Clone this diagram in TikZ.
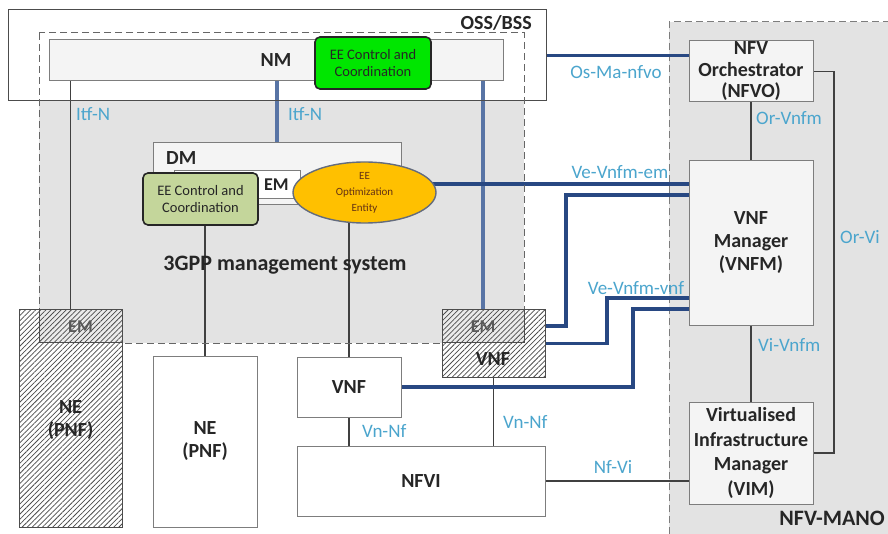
\documentclass[tikz,border=0pt]{standalone}
\usepackage{fontspec}
\setmainfont{Carlito}
\usetikzlibrary{shapes.geometric,patterns.meta}
\definecolor{lbl}{RGB}{75,165,205}
\definecolor{navy}{RGB}{40,72,130}
\definecolor{steel}{RGB}{88,116,165}
\definecolor{bggray}{RGB}{227,227,227}
\definecolor{boxfill}{RGB}{244,244,244}
\definecolor{brightgreen}{RGB}{0,230,0}
\definecolor{olivegreen}{RGB}{196,214,155}
\definecolor{amber}{RGB}{255,192,0}
\definecolor{txt}{RGB}{38,38,38}
\definecolor{edge}{RGB}{125,125,125}
\definecolor{ellipseedge}{RGB}{100,108,125}
\definecolor{brownish}{RGB}{100,50,20}
\pgfdeclarelayer{bg}\pgfdeclarelayer{conn}\pgfsetlayers{bg,conn,main}
\begin{document}
\begin{tikzpicture}[x=1pt,y=-1pt,
  box/.style={draw=edge, line width=1pt, inner sep=0pt, outer sep=0pt, align=center, text=txt,
    font=\fontsize{20}{23}\selectfont\bfseries},
  hatch/.style={preaction={fill=#1}, pattern={Lines[angle=45,distance=3.6pt,line width=0.75pt]}, pattern color=black!70},
  eebox/.style={draw=black!85, line width=1.6pt, rounded corners=5pt, inner sep=0pt, align=center,
    font=\fontsize{14.5}{17}\selectfont, text=black!85},
  lab/.style={text=lbl, font=\fontsize{19}{22}\selectfont, inner sep=0pt},
  plain/.style={text=txt, font=\fontsize{20}{23}\selectfont\bfseries, inner sep=0pt, align=center},
  thin/.style={draw=black!75, line width=1.1pt},
  thickline/.style={draw=navy, line width=3.6pt},
  nmline/.style={draw=steel, line width=3.6pt},
  dashy/.style={line width=1pt, dash pattern=on 7pt off 4pt}]
\useasboundingbox (0,0) rectangle (888,534);

% ---- background areas
\begin{pgfonlayer}{bg}
  \fill[white] (0,0) rectangle (888,534);
  \fill[bggray] (39,101) rectangle (524,343);
  \fill[bggray] (669,22) rectangle (888,534);
  \draw[edge, dashy] (669,534) -- (669,22) -- (888,22);
\end{pgfonlayer}

\node[box, draw=black!70, minimum width=538, minimum height=91] (oss) at (277,55.5) {};
\node[plain, anchor=east] (osslabel) at (532,23) {OSS/BSS};
\draw[black!60, dashy] (39,33) rectangle (524,343);

% ---- 3GPP side
\node[box, fill=boxfill, minimum width=454, minimum height=41] (nm) at (276,60.5) {NM};
\node[eebox, fill=brightgreen, minimum width=116, minimum height=52] (eec1) at (373,63) {EE Control and\\Coordination};

\node[box, fill=boxfill, minimum width=248, minimum height=62] (dm) at (277,174) {};
\node[plain, anchor=west] (dmlabel) at (166,158) {DM};
\node[box, fill=white, minimum width=126, minimum height=28] (em1) at (237,185) {};
\node[plain, anchor=west, font=\fontsize{18}{20}\selectfont\bfseries] (em1label) at (264,185) {EM};
\node[eebox, fill=olivegreen, minimum width=115, minimum height=52] (eec2) at (200.5,199) {EE Control and\\Coordination};
\node[ellipse, draw=ellipseedge, line width=1.4pt, fill=amber, minimum width=143, minimum height=61,
      inner sep=0pt, align=center, text=brownish,
      font=\fontsize{11}{16}\selectfont] (eoe) at (364.5,192.5) {EE\\Optimization\\Entity};

\node[plain, font=\fontsize{22}{24}\selectfont\bfseries] (gpp) at (285,265) {3GPP management system};

% NE hatched (left)
\node[box, draw=black!70, hatch=white, minimum width=103, minimum height=217] (ne1) at (70.5,418.5) {};
\node[box, draw=black!70, hatch=black!8, minimum width=83, minimum height=32] (em2) at (80.5,326) {};
\node[plain, text=black!65, font=\fontsize{18}{20}\selectfont\bfseries] (em2label) at (80.5,327) {EM};
\node[plain] (ne1label) at (70.5,420) {NE\\(PNF)};

% NE plain
\node[box, fill=white, minimum width=104, minimum height=171] (ne2) at (205,441.5) {NE\\(PNF)};

% VNF plain
\node[box, fill=white, minimum width=104, minimum height=60] (vnf1) at (349,387) {VNF};
% NFVI
\node[box, fill=white, minimum width=248, minimum height=70] (nfvi) at (421,481) {NFVI};

% VNF hatched with EM
\node[box, draw=black!70, hatch=white, minimum width=103, minimum height=67] (vnf2) at (493.5,343.5) {};
\node[box, draw=black!70, hatch=black!8, minimum width=82, minimum height=32] (em3) at (483,326) {};
\node[plain, text=black!65, font=\fontsize{18}{20}\selectfont\bfseries] (em3label) at (483,327) {EM};
\node[plain] (vnf2label) at (493,359) {VNF};

% ---- NFV-MANO side
\node[box, fill=boxfill, minimum width=124, minimum height=61, font=\fontsize{20}{21.5}\selectfont\bfseries] (nfvo) at (751,71.5) {NFV\\Orchestrator\\(NFVO)};
\node[box, fill=boxfill, minimum width=124, minimum height=164] (vnfm) at (751,243) {VNF\\Manager\\(VNFM)};
\node[box, fill=boxfill, minimum width=124, minimum height=102, font=\fontsize{20}{24.5}\selectfont\bfseries] (vim) at (751,453) {Virtualised\\Infrastructure\\Manager\\(VIM)};
\node[plain, anchor=east, font=\fontsize{22}{24}\selectfont\bfseries] (manolabel) at (885,518) {NFV-MANO};

% ---- connectors
\coordinate (kY) at (0,184);
\coordinate (kA) at (566,195);
\coordinate (kB) at (607,298);
\coordinate (kC) at (633,309);
\begin{pgfonlayer}{conn}
  \draw[thin] (ne1.north |- nm.south) -- (ne1.north);
  \draw[thin] (ne2.north |- eec2.south) -- (ne2.north);
  \draw[thin] (vnf1.north |- eoe.center) -- (vnf1.north);
  \draw[thin] (vnf1.south) -- (vnf1.south |- nfvi.north);
  \draw[thin] (vnf2.south) -- (vnf2.south |- nfvi.north);
  \draw[thin] (nfvi.east) -- (nfvi.east -| vim.west);
  \draw[thin] (nfvo.south) -- (vnfm.north);
  \draw[thin] (vnfm.south) -- (vim.north);
  \draw[thin] (nfvo.east) -- ++(21,0) |- (vim.east);
  \draw[nmline] (dm.north |- nm.south) -- (dm.north);
  \draw[nmline] (em3.north |- nm.south) -- (em3.north);
  \draw[thickline] (oss.east) -- (oss.east -| nfvo.west);
  \draw[thickline] (eoe.center |- kY) -- (vnfm.west |- kY);
  \draw[thickline] (em3.east) -| (kA) -- (kA -| vnfm.west);
  \draw[thickline] (vnf2.east) -| (kB) -- (kB -| vnfm.west);
  \draw[thickline] (vnf1.east) -| (kC) -- (kC -| vnfm.west);
\end{pgfonlayer}

% ---- interface labels
\node[lab, anchor=west] (l1) at (76,114) {Itf-N};
\node[lab, anchor=west] (l2) at (288,114) {Itf-N};
\node[lab] (l3) at (616,72) {Os-Ma-nfvo};
\node[lab] (l4) at (620,172) {Ve-Vnfm-em};
\node[lab] (l5) at (636,288) {Ve-Vnfm-vnf};
\node[lab, anchor=west] (l6) at (756,118) {Or-Vnfm};
\node[lab, anchor=west] (l7) at (840,237) {Or-Vi};
\node[lab, anchor=west] (l8) at (758,345) {Vi-Vnfm};
\node[lab, anchor=west] (l9) at (362,431) {Vn-Nf};
\node[lab, anchor=west] (l10) at (503,422) {Vn-Nf};
\node[lab] (l11) at (613,467) {Nf-Vi};
\end{tikzpicture}
\end{document}
